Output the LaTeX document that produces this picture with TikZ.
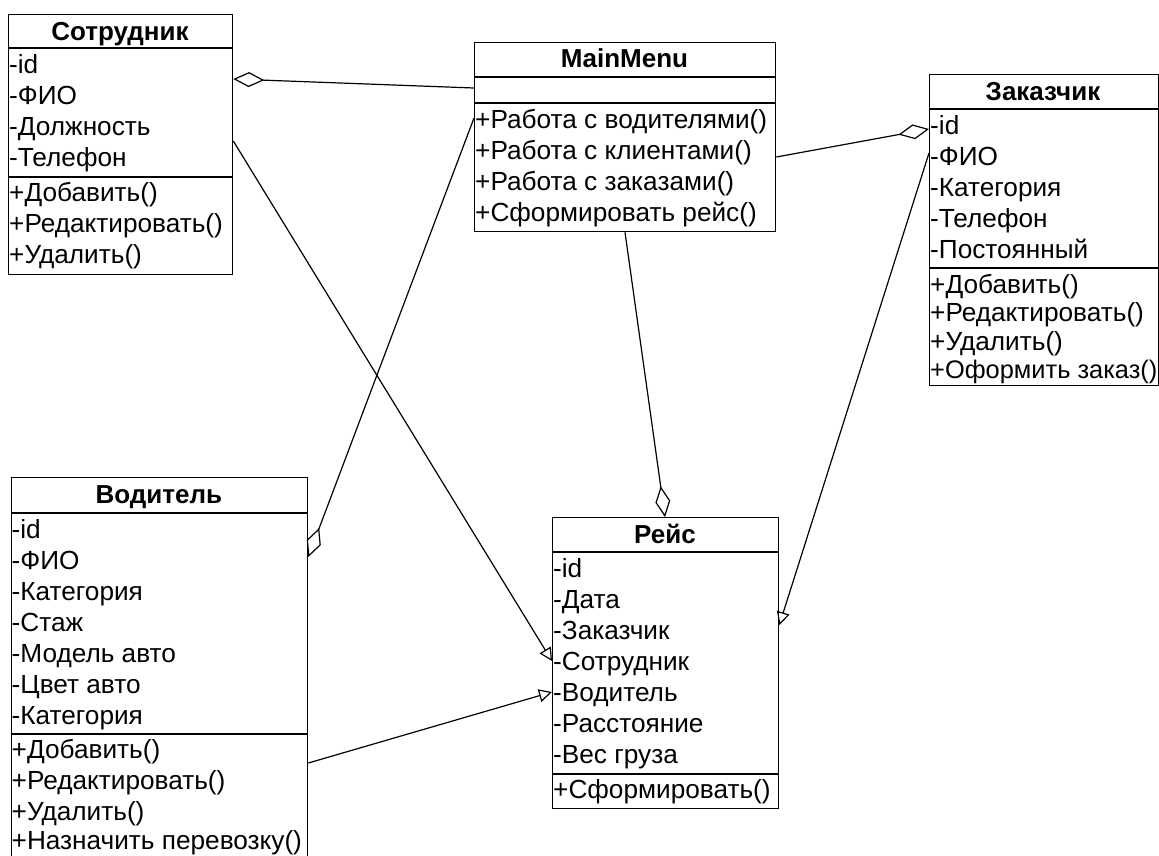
\documentclass[tikz,border=0pt]{standalone}
\usepackage{fontspec}
\setmainfont{Liberation Sans}
\usetikzlibrary{arrows.meta,calc}

\tikzset{
  classbox/.style={draw, line width=1.3pt, inner sep=0pt, anchor=north west},
  sepline/.style={line width=1.3pt},
  classtitle/.style={font=\fontsize{26}{30}\selectfont\bfseries, anchor=base, inner sep=0pt},
  member/.style={font=\fontsize{26.2}{30}\selectfont, anchor=base west, inner sep=0pt},
  tightmember/.style={member, font=\fontsize{25.4}{30}\selectfont},
  link/.style={line width=1.2pt},
  aggr/.style={link, {Diamond[open, length=31pt, width=15pt]}-},
  gen/.style={link, -{Triangle[open, length=13pt, width=13pt]}},
}

\begin{document}
\begin{tikzpicture}[x=1pt, y=-1pt]
\path[use as bounding box] (0,0) rectangle (1159,855);
\clip (0,0) rectangle (1159,855);

% --- Сотрудник ---
\node[classbox, minimum width=224pt, minimum height=260pt] (sotr) at (8,14) {};
\draw[sepline] (sotr.west |- 0,48) -- (sotr.east |- 0,48);
\draw[sepline] (sotr.west |- 0,177) -- (sotr.east |- 0,177);
\node[classtitle] (sotr-t) at (120,40) {Сотрудник};
\foreach \t [count=\i] in {-id,-ФИО,-Должность,-Телефон}
  \node[member] (sotr-a\i) at (9,{73+31*(\i-1)}) {\t};
\foreach \t [count=\i] in {+Добавить(),+Редактировать(),+Удалить()}
  \node[member] (sotr-m\i) at (9,{201+31*(\i-1)}) {\t};

% --- MainMenu ---
\node[classbox, minimum width=301pt, minimum height=189pt] (main) at (474,42) {};
\draw[sepline] (main.west |- 0,77) -- (main.east |- 0,77);
\draw[sepline] (main.west |- 0,103) -- (main.east |- 0,103);
\node[classtitle] (main-t) at (624.5,67) {MainMenu};
\foreach \t [count=\i] in {+Работа с водителями(),+Работа с клиентами(),+Работа с заказами(),+Сформировать рейс()}
  \node[member] (main-m\i) at (475,{128+31*(\i-1)}) {\t};

% --- Заказчик ---
\node[classbox, minimum width=228.5pt, minimum height=311pt] (zak) at (929,74) {};
\draw[sepline] (zak.west |- 0,109) -- (zak.east |- 0,109);
\draw[sepline] (zak.west |- 0,268) -- (zak.east |- 0,268);
\node[classtitle] (zak-t) at (1043,100) {Заказчик};
\foreach \t [count=\i] in {-id,-ФИО,-Категория,-Телефон,-Постоянный}
  \node[member] (zak-a\i) at (930,{134+31*(\i-1)}) {\t};
\foreach \t [count=\i] in {+Добавить(),+Редактировать(),+Удалить()}
  \node[member] (zak-m\i) at (930,{293+28.5*(\i-1)}) {\t};
\node[tightmember] (zak-m4) at (930,378.5) {+Оформить заказ()};

% --- Водитель ---
\node[classbox, minimum width=296.5pt, minimum height=387pt] (vod) at (10.5,477) {};
\draw[sepline] (vod.west |- 0,513) -- (vod.east |- 0,513);
\draw[sepline] (vod.west |- 0,734) -- (vod.east |- 0,734);
\node[classtitle] (vod-t) at (158.75,503) {Водитель};
\foreach \t [count=\i] in {-id,-ФИО,-Категория,-Стаж,-Модель авто,-Цвет авто,-Категория}
  \node[member] (vod-a\i) at (11.5,{538+31*(\i-1)}) {\t};
\foreach \t [count=\i] in {+Добавить(),+Редактировать(),+Удалить()}
  \node[member] (vod-m\i) at (11.5,{758+31*(\i-1)}) {\t};
\node[member] (vod-m4) at (11.5,849) {+Назначить перевозку()};

% --- Рейс ---
\node[classbox, minimum width=226pt, minimum height=291pt] (reis) at (552,517) {};
\draw[sepline] (reis.west |- 0,552) -- (reis.east |- 0,552);
\draw[sepline] (reis.west |- 0,774) -- (reis.east |- 0,774);
\node[classtitle] (reis-t) at (665,543) {Рейс};
\foreach \t [count=\i] in {-id,-Дата,-Заказчик,-Сотрудник,-Водитель,-Расстояние,-Вес груза}
  \node[member] (reis-a\i) at (553,{577+31*(\i-1)}) {\t};
\node[member] (reis-m1) at (553,798) {+Сформировать()};

% --- aggregations ---
\draw[aggr] ($(sotr.north east)+(0,65)$) -- ($(main.north west)+(0,46)$);
\draw[aggr] ($(vod.north east)+(0,80)$) -- ($(main.north west)+(0,76)$);
\draw[aggr] ($(zak.north west)+(0,55)$) -- ($(main.north east)+(0,115)$);
\draw[aggr] ($(reis.north west)+(113,0)$) -- ($(main.south west)+(151,0)$);

% --- associations with open triangles ---
\draw[gen] ($(sotr.north east)+(0,127)$) -- ($(reis.north west)+(0,144)$);
\draw[gen] ($(vod.north east)+(0,286)$) -- ($(reis.north west)+(0,175)$);
\draw[gen] ($(zak.north west)+(0,79)$) -- ($(reis.north east)+(0,108)$);
\end{tikzpicture}
\end{document}
